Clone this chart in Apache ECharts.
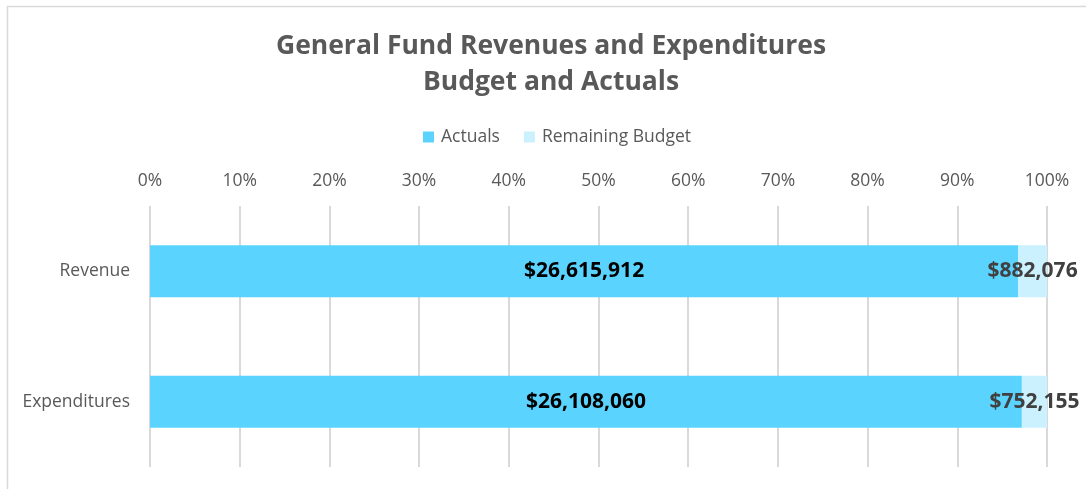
<!DOCTYPE html>
<html>
<head>
<meta charset="utf-8">
<script src="https://cdn.jsdelivr.net/npm/echarts@6/dist/echarts.min.js"></script>
<style>html,body{margin:0;padding:0;background:#fff;}#c{width:1086px;height:489px;}</style>
</head>
<body>
<div id="c"></div>
<script>
var categories = ['Revenue', 'Expenditures'];
var actuals = [26615912, 26108060];
var remaining = [882076, 752155];
var seriesNames = ['Actuals', 'Remaining Budget'];
var tickLabels = ['0%','10%','20%','30%','40%','50%','60%','70%','80%','90%','100%'];

var FONT = '"Open Sans", "Noto Sans", sans-serif';
function pct(i, v) { return v / (actuals[i] + remaining[i]) * 100; }
function money(v) { return '$' + v.toLocaleString('en-US'); }

var chart = echarts.init(document.getElementById('c'), null, {renderer: 'canvas'});
chart.setOption({
  animation: false,
  backgroundColor: '#fff',
  graphic: [{
    type: 'rect', left: 5, top: 4, shape: {x: 0, y: 0, width: 1200, height: 600},
    style: {fill: 'none', stroke: '#d9d9d9', lineWidth: 1.5}, z: -1
  }],
  title: {
    text: 'General Fund Revenues and Expenditures\nBudget and Actuals',
    left: 546, textAlign: 'center', top: 23,
    textStyle: {fontFamily: FONT, fontWeight: 'bold', fontSize: 26.5, color: '#595959', lineHeight: 36}
  },
  legend: {
    top: 123, left: 418, itemWidth: 11, itemHeight: 11, itemGap: 24,
    icon: 'rect',
    textStyle: {fontFamily: FONT, fontSize: 17.5, color: '#595959', padding: [0, 0, 0, 2]},
    data: seriesNames
  },
  grid: {left: 150, right: 39, top: 206, bottom: 22, containLabel: false},
  xAxis: {
    type: 'value', position: 'top', min: 0, max: 100, interval: 10,
    axisLine: {show: false}, axisTick: {show: false},
    axisLabel: {
      fontFamily: FONT, fontSize: 17.5, color: '#595959', margin: 16,
      formatter: function (v) { return tickLabels[Math.round(v / 10)]; }
    },
    splitLine: {lineStyle: {color: '#d9d9d9', width: 2}}
  },
  yAxis: {
    type: 'category', inverse: true, data: categories,
    axisLine: {show: false}, axisTick: {show: false},
    axisLabel: {fontFamily: FONT, fontSize: 17.5, color: '#595959', margin: 20}
  },
  series: [{
    name: seriesNames[0], type: 'bar', stack: 's', barWidth: 52,
    itemStyle: {color: '#5bd3ff'},
    data: actuals.map(function (v, i) { return pct(i, v); }),
    label: {
      show: true, position: 'inside', color: '#000', fontFamily: FONT, fontWeight: 'bold', fontSize: 21,
      formatter: function (p) { return money(actuals[p.dataIndex]); }
    }
  }, {
    name: seriesNames[1], type: 'bar', stack: 's', barWidth: 52,
    itemStyle: {color: '#cbf1ff'},
    data: remaining.map(function (v, i) { return pct(i, v); }),
    label: {
      show: true, position: 'inside', color: '#404040', fontFamily: FONT, fontWeight: 'bold', fontSize: 21,
      formatter: function (p) { return money(remaining[p.dataIndex]); }
    },
    labelLayout: {hideOverlap: false}
  }]
});
</script>
</body>
</html>
